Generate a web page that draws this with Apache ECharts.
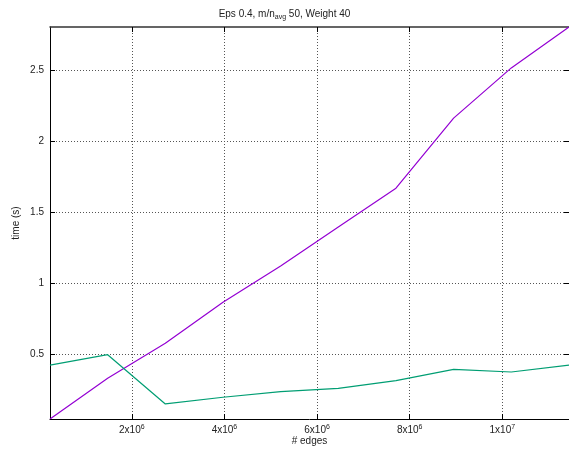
<!DOCTYPE html>
<html><head><meta charset="utf-8">
<script src="https://cdn.jsdelivr.net/npm/echarts@6/dist/echarts.min.js"></script>
<style>html,body{margin:0;padding:0;background:#fff}#c{width:569px;height:449px}</style>
</head><body><div id="c"></div>
<script>
// # edges (x values)
const edges = [234000, 1479000, 2724000, 3969000, 5214000, 6459000, 7704000, 8949000, 10194000, 11440000];
// time (s)
const timePurple = [0.047, 0.334, 0.58, 0.869, 1.124, 1.399, 1.673, 2.166, 2.52, 2.808];
const timeGreen  = [0.427, 0.5, 0.153, 0.2, 0.24, 0.263, 0.317, 0.397, 0.378, 0.427];
const xTicks = [2000000, 4000000, 6000000, 8000000, 10000000];
const yTicks = [0.5, 1, 1.5, 2, 2.5];
const titleText = 'Eps 0.4, m/n{sub|avg} 50, Weight 40';
const xName = '# edges';
const yName = 'time (s)';

const FONT = 'Liberation Sans';
const TXT = '#222';
const xMin = Math.min(...edges), xMax = Math.max(...edges);
const allY = timePurple.concat(timeGreen);
const yMin = Math.min(...allY), yMax = Math.max(...allY);

function sciFmt(v) {
  const e = Math.floor(Math.log10(v) + 1e-9);
  const m = Math.round(v / Math.pow(10, e));
  return '{n|' + m + 'x10}{s|' + e + '}';
}
const rich = {
  n: {fontSize: 10, fontFamily: FONT, color: TXT},
  s: {fontSize: 7, fontFamily: FONT, color: TXT, padding: [0, 0, 6, 0]}
};
const gridLine = {show: true, lineStyle: {type: [1, 2], color: '#555', width: 1}};

const chart = echarts.init(document.getElementById('c'), null, {renderer: 'canvas'});
chart.setOption({
  animation: false,
  backgroundColor: '#fff',
  title: {
    text: titleText, left: 'center', top: 3,
    textStyle: {fontSize: 10, fontWeight: 'normal', fontFamily: FONT, color: TXT,
      rich: {sub: {fontSize: 7, fontFamily: FONT, color: TXT, padding: [6, 0, 0, 0]}}}
  },
  grid: {left: 50, right: 0, top: 27, bottom: 30, containLabel: false, outerBoundsMode: 'none'},
  xAxis: [{
    type: 'value', position: 'bottom', min: xMin, max: xMax,
    name: xName, nameLocation: 'middle', nameGap: 17, nameMoveOverlap: false,
    nameTextStyle: {fontSize: 10, fontFamily: FONT, color: TXT},
    axisLine: {show: true, onZero: false, lineStyle: {color: '#000', width: 1}},
    axisTick: {show: true, inside: true, length: 5, customValues: xTicks, lineStyle: {color: '#000'}},
    axisLabel: {customValues: xTicks, formatter: sciFmt, margin: 5, rich: rich},
    splitLine: gridLine
  }, {
    type: 'value', position: 'top', min: xMin, max: xMax,
    axisLine: {show: true, onZero: false, lineStyle: {color: '#333', width: 1.5}},
    axisTick: {show: true, inside: true, length: 5, customValues: xTicks, lineStyle: {color: '#000'}},
    axisLabel: {show: false},
    splitLine: {show: false}
  }],
  yAxis: [{
    type: 'value', position: 'left', min: yMin, max: yMax,
    name: yName, nameLocation: 'middle', nameGap: 29, nameRotate: 90, nameMoveOverlap: false,
    nameTextStyle: {fontSize: 10, fontFamily: FONT, color: TXT},
    axisLine: {show: true, onZero: false, lineStyle: {color: '#000', width: 1}},
    axisTick: {show: true, inside: true, length: 5, customValues: yTicks, lineStyle: {color: '#000'}},
    axisLabel: {customValues: yTicks, margin: 6, fontSize: 10, fontFamily: FONT, color: TXT},
    splitLine: gridLine
  }, {
    type: 'value', position: 'right', min: yMin, max: yMax,
    axisLine: {show: true, onZero: false, lineStyle: {color: '#000', width: 1}},
    axisTick: {show: true, inside: true, length: 5, customValues: yTicks, lineStyle: {color: '#000'}},
    axisLabel: {show: false},
    splitLine: {show: false}
  }],
  series: [{
    name: 'purple', type: 'line', xAxisIndex: 0, yAxisIndex: 0,
    data: edges.map((x, i) => [x, timePurple[i]]),
    showSymbol: false, lineStyle: {color: '#9400d3', width: 1.2}, itemStyle: {color: '#9400d3'}
  }, {
    name: 'green', type: 'line', xAxisIndex: 0, yAxisIndex: 0,
    data: edges.map((x, i) => [x, timeGreen[i]]),
    showSymbol: false, lineStyle: {color: '#009e73', width: 1.2}, itemStyle: {color: '#009e73'}
  }]
});
</script></body></html>
